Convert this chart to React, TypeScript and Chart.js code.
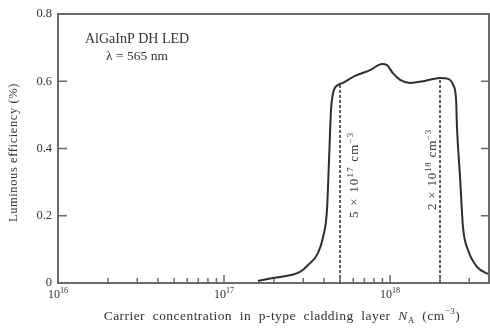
import React, { useEffect, useRef } from "react";
import { Chart, registerables } from "chart.js";

Chart.register(...registerables);

// ---- data ----
const curveConc = [
  1.6e17, 1.97e17, 2.87e17, 3.21e17, 3.68e17, 3.95e17, 4.17e17, 4.29e17, 4.41e17, 4.54e17,
  4.86e17, 5.21e17, 6.15e17, 7.58e17, 8.95e17, 9.59e17, 1.04e18, 1.15e18, 1.32e18, 1.62e18,
  2.0e18, 2.24e18, 2.4e18, 2.5e18, 2.53e18, 2.64e18, 2.75e18, 2.95e18, 3.34e18, 4.0e18,
];
const curveEff = [
  0.006, 0.015, 0.033, 0.054, 0.089, 0.137, 0.217, 0.366, 0.514, 0.565,
  0.589, 0.595, 0.616, 0.633, 0.651, 0.648, 0.624, 0.604, 0.595, 0.601,
  0.61, 0.607, 0.589, 0.544, 0.464, 0.315, 0.167, 0.098, 0.048, 0.024,
];
const markerConc = [5e17, 2e18];
const markerTop = [0.59, 0.61];
const markerMant = ["5", "2"];
const markerExp = ["17", "18"];

const yTicks = [0, 0.2, 0.4, 0.6, 0.8];
const xDecades = [16, 17, 18];
const xMinorMult = [2, 3, 4, 5, 6, 7, 8, 9];
const xMin = 1e16;
const xMax = 4e18;

const legendLine1 = "AlGaInP DH LED";
const legendLine2 = "λ = 565 nm";
const yTitle = "Luminous efficiency (%)";

// ---- styling ----
const FAM = "'Liberation Serif', 'DejaVu Serif', serif";
const TXT = "#333";
const AX = "#6a6a6a";
const LINE = "#2e2e2e";

type Part = { t: string; sup?: boolean; sub?: boolean; italic?: boolean };

function partFont(p: Part, size: number) {
  const s = p.sup || p.sub ? size * 0.68 : size;
  return `${p.italic ? "italic " : ""}${s}px ${FAM}`;
}
function richWidth(ctx: CanvasRenderingContext2D, parts: Part[], size: number) {
  let w = 0;
  for (const p of parts) {
    ctx.font = partFont(p, size);
    w += ctx.measureText(p.t).width;
  }
  return w;
}
function drawRich(
  ctx: CanvasRenderingContext2D,
  parts: Part[],
  x: number,
  y: number,
  size: number,
  align: "left" | "center" = "left"
) {
  let cx = align === "center" ? x - richWidth(ctx, parts, size) / 2 : x;
  ctx.textAlign = "left";
  ctx.textBaseline = "alphabetic";
  for (const p of parts) {
    ctx.font = partFont(p, size);
    const dy = p.sup ? -size * 0.42 : p.sub ? size * 0.22 : 0;
    ctx.fillText(p.t, cx, y + dy);
    cx += ctx.measureText(p.t).width;
  }
}

const xTickValues: number[] = [];
xDecades.forEach((d) => {
  xTickValues.push(Math.pow(10, d));
  xMinorMult.forEach((m) => {
    const v = m * Math.pow(10, d);
    if (v <= xMax) xTickValues.push(v);
  });
});

const decoPlugin = {
  id: "deco",
  afterDatasetsDraw(chart: any) {
    const ctx: CanvasRenderingContext2D = chart.ctx;
    const { left, right, top, bottom } = chart.chartArea;
    const xs = chart.scales.x;
    const ys = chart.scales.y;
    ctx.save();
    // frame top & right
    ctx.strokeStyle = AX;
    ctx.lineWidth = 2;
    ctx.beginPath();
    ctx.moveTo(left, top);
    ctx.lineTo(right, top);
    ctx.moveTo(right - 1, top);
    ctx.lineTo(right - 1, bottom);
    ctx.stroke();

    // x ticks (inward)
    ctx.lineWidth = 1.5;
    ctx.beginPath();
    for (const t of xs.ticks) {
      const v = t.value;
      if (v <= xMin) continue;
      const px = xs.getPixelForValue(v);
      const isDec = Math.abs(Math.log10(v) - Math.round(Math.log10(v))) < 1e-9;
      const len = isDec ? 8 : 5;
      ctx.moveTo(px, bottom);
      ctx.lineTo(px, bottom - len);
    }
    // y ticks inward left & right
    for (const t of ys.ticks) {
      if (t.value <= 0 || t.value >= 0.8) continue;
      const py = ys.getPixelForValue(t.value);
      ctx.moveTo(left, py);
      ctx.lineTo(left + 9, py);
      ctx.moveTo(right, py);
      ctx.lineTo(right - 9, py);
    }
    ctx.stroke();

    ctx.fillStyle = TXT;
    // x tick labels
    for (const d of xDecades) {
      const px = xs.getPixelForValue(Math.pow(10, d));
      drawRich(ctx, [{ t: "10" }, { t: String(d), sup: true }], px, bottom + 15, 12, "center");
    }

    // x title
    (ctx as any).letterSpacing = "0.45px";
    drawRich(
      ctx,
      [
        { t: "Carrier  concentration  in  p-type  cladding  layer  " },
        { t: "N", italic: true },
        { t: "A", sub: true },
        { t: "  (cm" },
        { t: "−3", sup: true },
        { t: ")" },
      ],
      (left + right) / 2 + 8,
      bottom + 37,
      13.5,
      "center"
    );
    (ctx as any).letterSpacing = "0px";

    // y title
    ctx.save();
    ctx.translate(17, (top + bottom) / 2 + 4);
    ctx.rotate(-Math.PI / 2);
    ctx.font = `12.5px ${FAM}`;
    ctx.textAlign = "center";
    ctx.textBaseline = "alphabetic";
    (ctx as any).letterSpacing = "0.6px";
    ctx.fillText(yTitle, 0, 0);
    (ctx as any).letterSpacing = "0px";
    ctx.restore();

    // legend text
    ctx.font = `14px ${FAM}`;
    ctx.textAlign = "center";
    ctx.textBaseline = "alphabetic";
    ctx.fillText(legendLine1, 137, 43);
    ctx.font = `13.5px ${FAM}`;
    ctx.fillText(legendLine2, 137, 60);

    // marker labels
    markerConc.forEach((c, i) => {
      const px = xs.getPixelForValue(c);
      const parts: Part[] = [
        { t: `${markerMant[i]} × 10` },
        { t: markerExp[i], sup: true },
        { t: " cm" },
        { t: "−3", sup: true },
      ];
      ctx.save();
      const bx = i === 0 ? px + 18 : px - 4;
      const by = i === 0 ? 218 : 210;
      ctx.translate(bx, by);
      ctx.rotate(-Math.PI / 2);
      (ctx as any).letterSpacing = i === 0 ? "1.2px" : "0.8px";
      drawRich(ctx, parts, 0, 0, 13, "left");
      (ctx as any).letterSpacing = "0px";
      ctx.restore();
    });
    ctx.restore();
  },
};

export default function App() {
  const ref = useRef<HTMLCanvasElement>(null);
  useEffect(() => {
    if (!ref.current) return;
    const markerSets = markerConc.map((c, i) => ({
      data: [
        { x: c, y: 0 },
        { x: c, y: markerTop[i] },
      ],
      borderColor: LINE,
      borderWidth: 1.5,
      borderDash: [3, 2],
      pointRadius: 0,
      fill: false,
    }));
    const chart = new Chart(ref.current, {
      type: "line",
      data: {
        datasets: [
          {
            data: curveConc.map((c, i) => ({ x: c, y: curveEff[i] })),
            borderColor: LINE,
            borderWidth: 2,
            pointRadius: 0,
            cubicInterpolationMode: "monotone",
            fill: false,
          },
          ...markerSets,
        ],
      },
      options: {
        animation: false,
        responsive: false,
        devicePixelRatio: 1,
        layout: { padding: { top: 14, right: 0, left: 0, bottom: 0 } },
        plugins: { legend: { display: false }, tooltip: { enabled: false } },
        scales: {
          x: {
            type: "logarithmic",
            min: xMin,
            max: xMax,
            grid: { display: false, drawTicks: false },
            border: { display: true, color: AX, width: 2 },
            ticks: { display: false },
            afterBuildTicks: (s: any) => {
              s.ticks = xTickValues.map((v) => ({ value: v }));
            },
            afterFit: (s: any) => {
              s.height = 48;
            },
          },
          y: {
            type: "linear",
            min: 0,
            max: 0.8,
            grid: { display: false, drawTicks: false },
            border: { display: true, color: AX, width: 2 },
            ticks: {
              color: TXT,
              padding: 6,
              font: { family: FAM, size: 12.5 },
              callback: (v: any) => String(Math.round(v * 10) / 10),
            },
            afterBuildTicks: (s: any) => {
              s.ticks = yTicks.map((v) => ({ value: v }));
            },
            afterFit: (s: any) => {
              s.width = 58;
            },
          },
        },
      },
      plugins: [decoPlugin],
    } as any);
    return () => chart.destroy();
  }, []);
  return (
    <div style={{ position: "fixed", left: 0, top: 0, width: 490, height: 331, background: "#fff" }}>
      <canvas ref={ref} width={490} height={331} style={{ display: "block" }} />
    </div>
  );
}
